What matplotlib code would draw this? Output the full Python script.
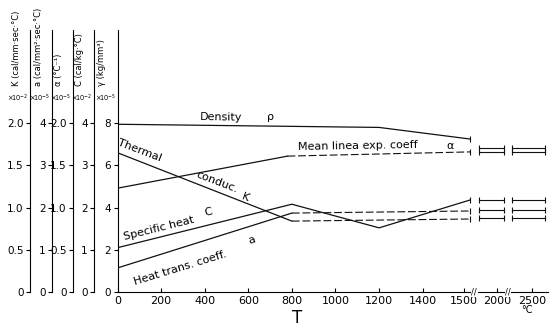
import numpy as np
import matplotlib
matplotlib.use("Agg")
import matplotlib.pyplot as plt

# temperature knots (deg C) and values in the units of each curve's own axis
density_T = [0, 1200, 1590]
density = [7.95, 7.8, 7.25]          # gamma, x1e-5 kg/mm^3
density_high = 6.82

alpha_T = [0, 780, 1590]
alpha = [1.23, 1.61, 1.66]           # x1e-5 1/degC
alpha_high = 1.66

cond_T = [0, 800, 1590]
cond = [1.65, 0.84, 0.865]           # K, x1e-2 cal/mm s degC
cond_high = 0.88

spec_T = [0, 800, 1200, 1590]
spec = [1.05, 2.08, 1.52, 2.18]      # C, x1e-2 cal/kg degC
spec_high = 2.18

htc_T = [0, 800, 1590]
htc = [0.57, 1.87, 1.92]             # a, x1e-5 cal/mm^2 s degC
htc_high = 1.95

x_ticks = [0, 200, 400, 600, 800, 1000, 1200, 1400, 1500, 2000, 2500]
x_labels = ["0", "200", "400", "600", "800", "1000", "1200", "1400", "1500", "2000", "2500"]

# broken temperature axis
T_KNOTS = [0, 1400, 1500, 2000, 2500, 3000]
P_KNOTS = [0, 1400, 1590, 1741, 1901, 2061]
HIGH_SEGMENTS = [(1720, 2100), (2215, 2690)]

W, H = 552, 328
L, R, B, TOP = 117.5, 548, 292, 30
PX_PER_UNIT = 21.1
main_top = (B - TOP) / PX_PER_UNIT

plt.rcParams['font.family'] = 'DejaVu Sans'
fig = plt.figure(figsize=(W / 100, H / 100), dpi=100)
ax = fig.add_axes([L / W, 1 - B / H, (R - L) / W, (B - TOP) / H])


def fwd(t):
    return np.interp(t, T_KNOTS, P_KNOTS)


def inv(p):
    return np.interp(p, P_KNOTS, T_KNOTS)


ax.set_xscale('function', functions=(fwd, inv))
ax.set_xlim(0, 2731)
ax.set_ylim(0, main_top)
for s in ['top', 'right']:
    ax.spines[s].set_visible(False)
ax.set_xticks(x_ticks)
ax.set_xticklabels(x_labels, fontsize=8)
ax.tick_params(axis='x', direction='in', length=3, pad=3, width=0.8)
ax.set_yticks([0, 2, 4, 6, 8])
ax.set_yticklabels(["0", "2", "4", "6", "8"], fontsize=7.5)
ax.tick_params(axis='y', direction='out', length=3, pad=1.5, width=0.8)
ax.xaxis.set_minor_locator(plt.NullLocator())
ax.yaxis.set_minor_locator(plt.NullLocator())


def side_axis(spine_px, scale, ticks, labels):
    a2 = ax.twinx()
    a2.set_ylim(0, main_top * scale)
    for s in ['top', 'right', 'bottom']:
        a2.spines[s].set_visible(False)
    a2.spines['left'].set_visible(True)
    a2.spines['left'].set_position(('axes', (spine_px - L) / (R - L)))
    a2.yaxis.set_ticks_position('left')
    a2.set_yticks(ticks)
    a2.set_yticklabels(labels, fontsize=7.5)
    a2.tick_params(axis='y', direction='out', length=3, pad=1.5, width=0.8)
    a2.yaxis.set_minor_locator(plt.NullLocator())
    return a2


half = ["0", "0.5", "1.0", "1.5", "2.0"]
ax_k = side_axis(30, 0.25, [0, 0.5, 1, 1.5, 2], half)
ax_a = side_axis(52, 0.5, [0, 1, 2, 3, 4], ["0", "1", "2", "3", "4"])
ax_al = side_axis(73, 0.25, [0, 0.5, 1, 1.5, 2], half)
ax_c = side_axis(94, 0.5, [0, 1, 2, 3, 4], ["0", "1", "2", "3", "4"])

lc = '#111111'


def curve(axis, T, vals, high, dash_from=None):
    if dash_from is None:
        axis.plot(T, vals, color=lc, lw=0.9)
    else:
        axis.plot(T[:dash_from + 1], vals[:dash_from + 1], color=lc, lw=0.9)
        axis.plot(T[dash_from:], vals[dash_from:], color=lc, lw=0.8, ls=(0, (7, 2.5)))
    axis.plot([T[-1]], [vals[-1]], marker='|', ms=5, color=lc, mew=0.8)
    for t0, t1 in HIGH_SEGMENTS:
        axis.plot([t0, t1], [high, high], color=lc, lw=0.8,
                  marker='|', ms=5, mew=0.8)


curve(ax, density_T, density, density_high)
curve(ax_al, alpha_T, alpha, alpha_high, dash_from=1)
curve(ax_k, cond_T, cond, cond_high, dash_from=1)
curve(ax_c, spec_T, spec, spec_high)
curve(ax_a, htc_T, htc, htc_high, dash_from=1)

# break marks on the temperature axis
for tb in [1655, 2157]:
    ax.text(tb, 0, "//", ha='center', va='center', fontsize=6,
            bbox=dict(facecolor='white', edgecolor='none', pad=0.3), clip_on=False)

# curve labels
fs = 8
ax.text(475, 8.29, "Density", fontsize=fs, ha='center', va='center', rotation=-1)
ax.text(700, 8.29, "ρ", fontsize=fs, ha='center', va='center')
ax.text(1100, 6.92, "Mean linea exp. coeff", fontsize=fs, ha='center', va='center', rotation=1)
ax.text(1466, 6.92, "α", fontsize=fs, ha='center', va='center')
ax.text(103, 6.73, "Thermal", fontsize=fs, ha='center', va='center', rotation=-21)
ax.text(456, 5.2, "conduc.", fontsize=fs, ha='center', va='center', rotation=-21)
ax.text(585, 4.5, "K", fontsize=fs, ha='center', va='center', rotation=-21)
ax.text(188, 3.03, "Specific heat", fontsize=fs, ha='center', va='center', rotation=14)
ax.text(415, 3.79, "C", fontsize=fs, ha='center', va='center', rotation=14)
ax.text(287, 1.14, "Heat trans. coeff.", fontsize=fs, ha='center', va='center', rotation=17)
ax.text(617, 2.46, "a", fontsize=fs, ha='center', va='center', rotation=17)

# axis titles and multipliers
axis_titles = [
    (17, "K (cal/mm·sec·°C)", 30, r"$\times\!10^{-2}$"),
    (38, "a (cal/mm²·sec·°C)", 52, r"$\times\!10^{-5}$"),
    (59, "α (°C⁻¹)", 73, r"$\times\!10^{-5}$"),
    (80, "C (cal/kg·°C)", 94, r"$\times\!10^{-2}$"),
    (101, "γ (kg/mm³)", 117.5, r"$\times\!10^{-5}$"),
]
for x_px, title, spine_px, mult in axis_titles:
    fig.text(x_px / W, 1 - 86 / H, title, rotation=90, ha='center', va='bottom', fontsize=6)
    fig.text((spine_px - 1.5) / W, 1 - 98 / H, mult, ha='right', va='center', fontsize=4.8)

fig.text(297 / W, 1 - 318 / H, "T", ha='center', va='center', fontsize=12)
fig.text(527 / W, 1 - 310 / H, "°C", ha='center', va='center', fontsize=7)

fig.savefig("out.png", dpi=100)
